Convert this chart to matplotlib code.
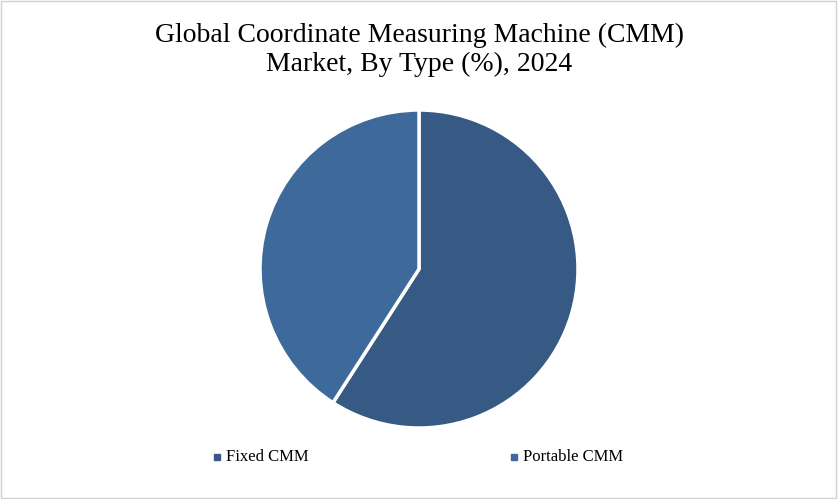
import matplotlib.pyplot as plt
from matplotlib.patches import Rectangle

labels = ["Fixed CMM", "Portable CMM"]
shares = [59.1, 40.9]
colors = ["#365a84", "#3e6a9b"]

plt.rcParams["font.family"] = "Liberation Serif"

fig = plt.figure(figsize=(8.38, 4.99), dpi=100)
fig.patches.append(Rectangle((0.001, 0.002), 0.997, 0.996, transform=fig.transFigure,
                             fill=False, edgecolor="#d0d0d0", lw=1))
fig.text(0.5, 0.955, "Global Coordinate Measuring Machine (CMM)\nMarket, By Type (%), 2024",
         ha="center", va="top", fontsize=20, linespacing=1.2)

# pie centre ~ (419, 269) px, radius ~159 px
r = 159 / 499
ax = fig.add_axes([(419 - 159) / 838, (499 - 269 - 159) / 499, 318 / 838, 318 / 499])
ax.pie(shares, colors=colors, startangle=90, counterclock=False,
       wedgeprops={"edgecolor": "white", "linewidth": 2.5})
ax.set_aspect("auto")
ax.set_xlim(-1, 1)
ax.set_ylim(-1, 1)
ax.axis("off")

for x, lab, c in zip([214, 511], labels, colors):
    fig.patches.append(Rectangle((x / 838, (499 - 460) / 499), 6 / 838, 6 / 499,
                                 transform=fig.transFigure, color=c))
    fig.text((x + 12) / 838, (499 - 457) / 499, lab, ha="left", va="center", fontsize=12)

fig.savefig("out.png", dpi=100)
